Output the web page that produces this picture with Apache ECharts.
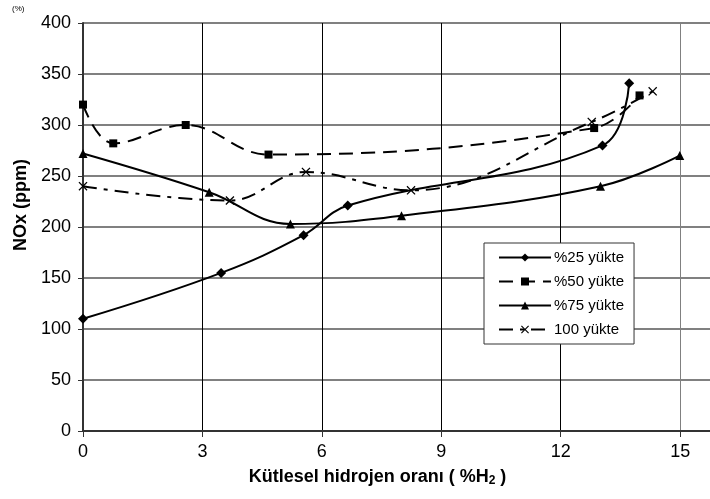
<!DOCTYPE html>
<html>
<head>
<meta charset="utf-8">
<script src="https://cdn.jsdelivr.net/npm/echarts@6/dist/echarts.min.js"></script>
<style>
  html, body { margin: 0; padding: 0; background: #fff; }
  #chart { width: 710px; height: 499px; }
</style>
</head>
<body>
<div id="chart"></div>
<script>
// seri adları
var seriesNames = ['%25 yükte', '%50 yükte', '%75 yükte', '100 yükte'];
// [hidrojen oranı, NOx] noktaları
var load25 = [[0, 110], [3.47, 155], [5.54, 192], [6.65, 221], [13.05, 280], [13.72, 341]];
var load50 = [[0, 320], [0.76, 282], [2.58, 300], [4.66, 271], [12.84, 297], [13.98, 329]];
var load75 = [[0, 272], [3.17, 234], [5.21, 203], [8.0, 211], [13.0, 240], [14.99, 270]];
var load100 = [[0, 240], [3.69, 226], [5.6, 254], [8.24, 236], [12.78, 303], [14.31, 333]];
var xTicks = [0, 3, 6, 9, 12, 15];

var myChart = echarts.init(document.getElementById('chart'));

var crossPath = 'path://M0,1 L1,0 L5,4 L9,0 L10,1 L6,5 L10,9 L9,10 L5,6 L1,10 L0,9 L4,5 Z';

function line(name, data, symbol, size, dash) {
  return {
    name: name,
    type: 'line',
    data: data,
    smooth: 0.4,
    symbol: symbol,
    symbolSize: size,
    showAllSymbol: true,
    itemStyle: { color: '#000' },
    lineStyle: { color: '#000', width: 2, type: dash },
    emphasis: { disabled: true }
  };
}

var option = {
  animation: false,
  textStyle: { fontFamily: 'Liberation Sans, Arial, sans-serif' },
  graphic: [{
    type: 'text', left: 12, top: 5,
    style: { text: '(%)', fontSize: 8, fill: '#000', fontFamily: 'Liberation Sans' }
  }],
  grid: { left: 83, top: 23, right: 0, bottom: 68 },
  legend: {
    orient: 'vertical',
    left: 484, top: 243,
    padding: [7, 10, 7, 14],
    itemGap: 9,
    itemWidth: 52,
    itemHeight: 10,
    backgroundColor: '#fff',
    borderColor: '#333',
    borderWidth: 1,
    borderRadius: 0,
    textStyle: { fontSize: 15, color: '#000', padding: [0, 0, 0, -2] },
    data: seriesNames
  },
  xAxis: {
    type: 'value',
    min: 0, max: 15.75, interval: 3,
    name: '{t|Kütlesel hidrojen oranı ( %H}{s|2}{t| )}',
    nameLocation: 'middle',
    nameGap: 37,
    nameTextStyle: {
      padding: [0, 38, 0, 0],
      rich: {
        t: { fontSize: 18, fontWeight: 'bold', color: '#000' },
        s: { fontSize: 12, fontWeight: 'bold', color: '#000', verticalAlign: 'bottom', padding: [7, 0, 0, 0] }
      }
    },
    axisLine: { lineStyle: { color: '#333', width: 2 } },
    axisTick: { show: true, length: 6, lineStyle: { color: '#333', width: 1 } },
    axisLabel: {
      fontSize: 18, color: '#000', margin: 12,
      showMaxLabel: false,
      formatter: function (v) { return xTicks.indexOf(v) >= 0 ? String(v) : ''; }
    },
    splitLine: {
      show: true,
      lineStyle: { color: ['#808080', '#000', '#000', '#000', '#000', '#808080', '#808080'], width: 1 }
    }
  },
  yAxis: {
    type: 'value',
    min: 0, max: 400, interval: 50,
    name: 'NOx (ppm)',
    nameLocation: 'middle',
    nameGap: 51,
    nameTextStyle: { fontSize: 18, fontWeight: 'bold', color: '#000', padding: [0, 0, 0, 44] },
    axisLine: { show: true, lineStyle: { color: '#333', width: 2 } },
    axisTick: { show: true, length: 5, lineStyle: { color: '#333', width: 1 } },
    axisLabel: { fontSize: 18, color: '#000', margin: 12 },
    splitLine: { show: true, lineStyle: { color: '#808080', width: 2 } }
  },
  series: [
    line(seriesNames[0], load25, 'diamond', 10, 'solid'),
    line(seriesNames[1], load50, 'rect', 8, [14, 8]),
    line(seriesNames[2], load75, 'triangle', 9, 'solid'),
    line(seriesNames[3], load100, crossPath, 9, [14, 7, 4, 7])
  ]
};

myChart.setOption(option);
window.onresize = myChart.resize;
</script>
</body>
</html>
